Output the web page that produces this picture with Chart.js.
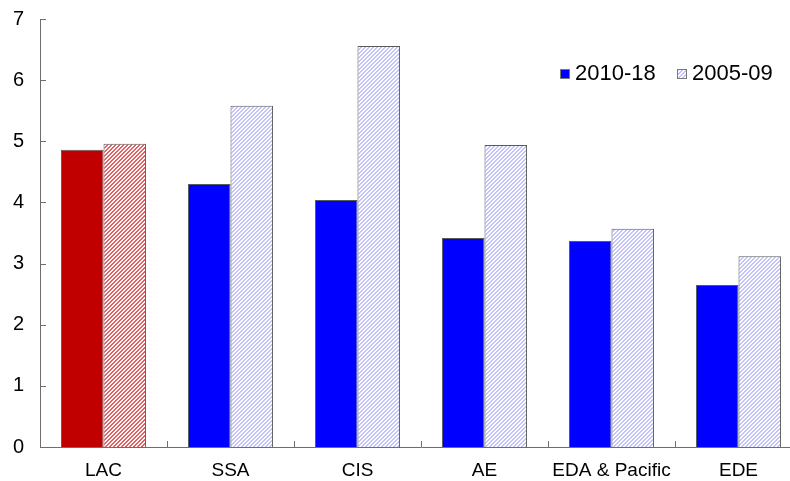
<!DOCTYPE html>
<html>
<head>
<meta charset="utf-8">
<script src="https://cdn.jsdelivr.net/npm/chart.js"></script>
<style>
  html, body { margin: 0; padding: 0; background: #fff; overflow: hidden; }
  #wrap { width: 810px; height: 481px; }
</style>
</head>
<body>
<div id="wrap"><canvas id="barChart"></canvas></div>
<script>
const regions = ['LAC', 'SSA', 'CIS', 'AE', 'EDA & Pacific', 'EDE'];
const recent = [4.86, 4.30, 4.04, 3.42, 3.37, 2.65];
const earlier = [4.96, 5.58, 6.56, 4.94, 3.57, 3.12];
const periods = ['2010-18', '2005-09'];
const yTicks = [0, 1, 2, 3, 4, 5, 6, 7];

const FONT = '"Liberation Sans", Arial, sans-serif';
const AXIS = '#6e6e6e';

// diagonal "/" hatch used for the 2005-09 bars
function hatch(lineColor) {
    const c = document.createElement('canvas');
    c.width = 4; c.height = 4;
    const g = c.getContext('2d');
    g.fillStyle = '#ffffff';
    g.fillRect(0, 0, 4, 4);
    g.fillStyle = lineColor;
    for (let i = 0; i < 4; i++) {
        g.fillRect(i, 3 - i, 1, 1);
        g.fillRect(i, (4 - i) % 4, 1, 1);
    }
    return g.createPattern(c, 'repeat');
}

const redHatch = hatch('#ec5c5c');
const blueHatch = hatch('#c2c2ff');

const solidColors = regions.map(r => r === 'LAC' ? '#c00000' : '#0000ff');
const hatchColors = regions.map(r => r === 'LAC' ? redHatch : blueHatch);

// inward tick marks on both axes
const innerTicks = {
    id: 'innerTicks',
    afterDraw(chart) {
        const {ctx, chartArea, scales} = chart;
        ctx.save();
        ctx.strokeStyle = AXIS;
        ctx.lineWidth = 1;
        ctx.beginPath();
        yTicks.forEach(v => {
            const y = Math.round(scales.y.getPixelForValue(v)) + 0.5;
            ctx.moveTo(chartArea.left, y);
            ctx.lineTo(chartArea.left + 6, y);
        });
        for (let i = 0; i < regions.length - 1; i++) {
            const x = Math.round((scales.x.getPixelForValue(i) + scales.x.getPixelForValue(i + 1)) / 2) + 0.5;
            ctx.moveTo(x, chartArea.bottom);
            ctx.lineTo(x, chartArea.bottom - 6);
        }
        ctx.stroke();
        ctx.restore();
    }
};

// legend drawn inside the plot, top right
const insideLegend = {
    id: 'insideLegend',
    afterDraw(chart) {
        const ctx = chart.ctx;
        const items = [
            {x: 560, fill: '#0000ff', text: chart.data.datasets[0].label},
            {x: 677, fill: blueHatch, text: chart.data.datasets[1].label}
        ];
        ctx.save();
        ctx.font = '22px ' + FONT;
        ctx.textBaseline = 'alphabetic';
        items.forEach(it => {
            ctx.fillStyle = it.fill;
            ctx.fillRect(it.x, 69, 10, 10);
            ctx.strokeStyle = '#7a7a7a';
            ctx.lineWidth = 1;
            ctx.strokeRect(it.x + 0.5, 69.5, 9, 9);
            ctx.fillStyle = '#000';
            ctx.fillText(it.text, it.x + 15, 80);
        });
        ctx.restore();
    }
};

new Chart(document.getElementById('barChart'), {
    type: 'bar',
    data: {
        labels: regions,
        datasets: [{
            label: periods[0],
            data: recent,
            backgroundColor: solidColors,
            borderColor: '#5a5a5a',
            borderWidth: 1
        }, {
            label: periods[1],
            data: earlier,
            backgroundColor: hatchColors,
            borderColor: '#5a5a5a',
            borderWidth: 1
        }]
    },
    options: {
        responsive: true,
        maintainAspectRatio: false,
        animation: false,
        categoryPercentage: 0.67,
        barPercentage: 1.0,
        layout: { padding: { top: 19, right: 8, left: 0, bottom: 0 } },
        plugins: {
            legend: { display: false },
            tooltip: { enabled: false }
        },
        scales: {
            x: {
                grid: { display: false, drawTicks: false },
                border: { display: true, color: AXIS },
                ticks: { color: '#000', font: { family: FONT, size: 19 }, padding: 12, maxRotation: 0 },
                afterFit: s => { s.height = 34; s.paddingLeft = 0; s.paddingRight = 0; }
            },
            y: {
                min: 0,
                max: 7,
                grid: { display: false, drawTicks: false },
                border: { display: true, color: AXIS },
                ticks: { stepSize: 1, color: '#000', font: { family: FONT, size: 20 }, padding: 16 },
                afterFit: s => { s.width = 40; s.paddingTop = 0; s.paddingBottom = 0; }
            }
        }
    },
    plugins: [innerTicks, insideLegend]
});
</script>
</body>
</html>
